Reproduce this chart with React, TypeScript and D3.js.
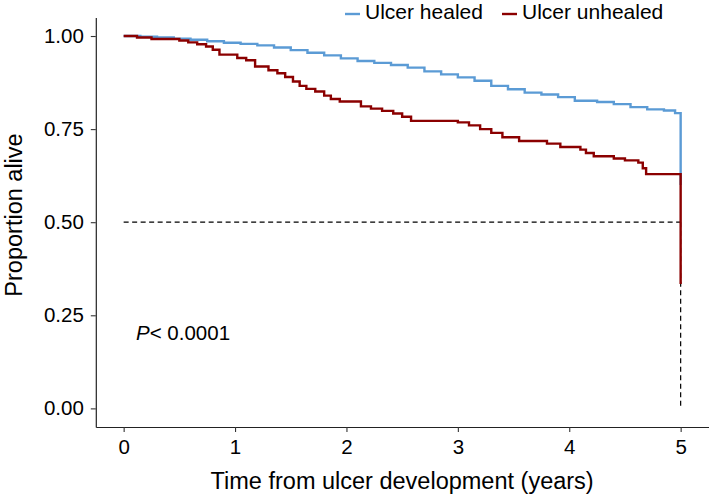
import { useEffect, useRef } from "react";
import * as d3 from "d3";

// Kaplan-Meier step curves (time in years, proportion alive)
const healedTime = [0, 0.15, 0.3, 0.45, 0.6, 0.75, 0.9, 1.05, 1.2, 1.35, 1.5, 1.65, 1.8, 1.95, 2.1, 2.25, 2.4, 2.55, 2.7, 2.85, 3.0, 3.15, 3.3, 3.45, 3.6, 3.75, 3.9, 4.05, 4.25, 4.4, 4.55, 4.7, 4.85, 4.95, 5.0];
const healedSurv = [1.0, 0.998, 0.996, 0.993, 0.99, 0.986, 0.982, 0.979, 0.975, 0.969, 0.962, 0.955, 0.948, 0.94, 0.933, 0.928, 0.922, 0.915, 0.905, 0.897, 0.889, 0.88, 0.866, 0.857, 0.848, 0.843, 0.836, 0.826, 0.823, 0.817, 0.809, 0.803, 0.8, 0.793, 0.6];

const unhealedTime = [0, 0.12, 0.25, 0.5, 0.58, 0.66, 0.74, 0.8, 0.86, 1.02, 1.1, 1.18, 1.3, 1.38, 1.45, 1.52, 1.58, 1.64, 1.72, 1.8, 1.86, 1.94, 2.13, 2.22, 2.32, 2.42, 2.5, 2.58, 3.0, 3.1, 3.2, 3.3, 3.4, 3.55, 3.8, 3.92, 4.1, 4.15, 4.22, 4.4, 4.5, 4.62, 4.66, 4.69, 5.0];
const unhealedSurv = [1.0, 0.996, 0.992, 0.988, 0.983, 0.978, 0.972, 0.963, 0.95, 0.941, 0.935, 0.918, 0.908, 0.9, 0.89, 0.878, 0.866, 0.858, 0.851, 0.84, 0.831, 0.824, 0.811, 0.805, 0.799, 0.792, 0.783, 0.772, 0.768, 0.76, 0.75, 0.74, 0.728, 0.718, 0.711, 0.702, 0.695, 0.686, 0.677, 0.671, 0.666, 0.66, 0.645, 0.629, 0.334];

const xTicks = [0, 1, 2, 3, 4, 5];
const yTicks = [0, 0.25, 0.5, 0.75, 1];
const seriesNames = ["Ulcer healed", "Ulcer unhealed"];
const seriesColors = ["#5B9BD5", "#8B0000"];
const medianTime = 5;
const pLabel = "< 0.0001";

export default function App() {
  const svgRef = useRef(null);

  useEffect(() => {
    const width = 709;
    const height = 496;
    const panel = { left: 95.8, right: 708.5, top: 17.4, bottom: 427 };
    const font = "'Liberation Sans', Arial, sans-serif";

    const svg = d3.select(svgRef.current)
      .attr("width", width)
      .attr("height", height);
    svg.selectAll("*").remove();

    const x = d3.scaleLinear().domain([-0.25, 5.25]).range([panel.left, panel.right]);
    const y = d3.scaleLinear().domain([-0.05, 1.05]).range([panel.bottom, panel.top]);

    // median reference lines
    svg.append("line")
      .attr("x1", x(0)).attr("x2", x(medianTime))
      .attr("y1", y(0.5)).attr("y2", y(0.5))
      .attr("stroke", "#000").attr("stroke-width", 1.2)
      .attr("stroke-dasharray", "5,3.5");
    svg.append("line")
      .attr("x1", x(medianTime)).attr("x2", x(medianTime))
      .attr("y1", y(0.5)).attr("y2", y(0))
      .attr("stroke", "#000").attr("stroke-width", 1.2)
      .attr("stroke-dasharray", "5,3.5");

    // survival curves
    const line = d3.line<[number, number]>()
      .x(d => x(d[0]))
      .y(d => y(d[1]))
      .curve(d3.curveStepAfter);

    const series = [
      healedTime.map((t, i) => [t, healedSurv[i]] as [number, number]),
      unhealedTime.map((t, i) => [t, unhealedSurv[i]] as [number, number]),
    ];
    series.forEach((pts, i) => {
      svg.append("path")
        .attr("d", line(pts))
        .attr("fill", "none")
        .attr("stroke", seriesColors[i])
        .attr("stroke-width", 2.4);
    });

    // axes
    const xAxis = svg.append("g")
      .attr("transform", `translate(0,${panel.bottom})`)
      .call(d3.axisBottom(x).tickValues(xTicks).tickFormat(d3.format("d")).tickSize(5).tickSizeOuter(0).tickPadding(7));
    const yAxis = svg.append("g")
      .attr("transform", `translate(${panel.left},0)`)
      .call(d3.axisLeft(y).tickValues(yTicks).tickFormat(d3.format(".2f")).tickSize(5).tickSizeOuter(0).tickPadding(7));
    [xAxis, yAxis].forEach(g => {
      g.select(".domain").attr("stroke", "#222").attr("stroke-width", 1.2);
      g.selectAll(".tick line").attr("stroke", "#333").attr("stroke-width", 1.1);
      g.selectAll(".tick text")
        .attr("fill", "#000")
        .style("font-family", font)
        .style("font-size", "20.5px");
    });

    // axis titles
    svg.append("text")
      .attr("x", (panel.left + panel.right) / 2)
      .attr("y", 489)
      .attr("text-anchor", "middle")
      .style("font-family", font)
      .style("font-size", "23.5px")
      .text("Time from ulcer development (years)");
    svg.append("text")
      .attr("transform", `translate(22,215) rotate(-90)`)
      .attr("text-anchor", "middle")
      .style("font-family", font)
      .style("font-size", "23.5px")
      .text("Proportion alive");

    // p-value annotation
    const p = svg.append("text")
      .attr("x", 136)
      .attr("y", 340)
      .style("font-family", font)
      .style("font-size", "20.5px");
    p.append("tspan").attr("font-style", "italic").text("P");
    p.append("tspan").text(pLabel);

    // legend
    const legendX = [345, 502];
    seriesNames.forEach((name, i) => {
      const g = svg.append("g").attr("transform", `translate(${legendX[i]},0)`);
      g.append("line")
        .attr("x1", 0).attr("x2", 15)
        .attr("y1", 14).attr("y2", 14)
        .attr("stroke", seriesColors[i])
        .attr("stroke-width", 2.4);
      g.append("text")
        .attr("x", 20)
        .attr("y", 18.5)
        .style("font-family", font)
        .style("font-size", "21px")
        .text(name);
    });
  }, []);

  return (
    <svg ref={svgRef} style={{ position: "absolute", left: 0, top: 0, background: "#fff" }} />
  );
}
